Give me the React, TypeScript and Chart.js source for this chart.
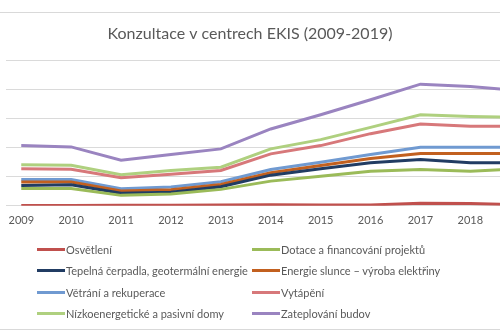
import React, { useEffect, useRef } from "react";
import { Chart, registerables } from "chart.js";

Chart.register(...registerables);

const years = [2009, 2010, 2011, 2012, 2013, 2014, 2015, 2016, 2017, 2018, 2019];

const seriesNames = [
  "Osvětlení",
  "Dotace a financování projektů",
  "Tepelná čerpadla, geotermální energie",
  "Energie slunce – výroba elektřiny",
  "Větrání a rekuperace",
  "Vytápění",
  "Nízkoenergetické a pasivní domy",
  "Zateplování budov",
];

const seriesColors = [
  "#C0504D",
  "#9BBB59",
  "#213C63",
  "#C2601F",
  "#709AD1",
  "#D7787A",
  "#AFD07F",
  "#9A84C0",
];

const osvetleni = [10, 10, 15, 20, 25, 40, 30, 30, 85, 75, 35];
const dotace = [597, 597, 358, 403, 563, 846, 1017, 1188, 1246, 1188, 1263];
const tepelna = [700, 724, 427, 461, 655, 1051, 1270, 1474, 1587, 1474, 1474];
const energieSlunce = [812, 812, 505, 553, 734, 1133, 1382, 1621, 1792, 1792, 1792];
const vetrani = [904, 904, 587, 642, 826, 1246, 1495, 1758, 2007, 2007, 2007];
const vytapeni = [1270, 1256, 962, 1085, 1212, 1782, 2065, 2474, 2805, 2724, 2724];
const nizkoenergeticke = [1406, 1393, 1065, 1212, 1324, 1952, 2270, 2689, 3123, 3065, 3038];
const zateplovani = [2065, 2020, 1563, 1758, 1952, 2635, 3123, 3635, 4171, 4089, 3942];

const seriesValues = [
  osvetleni,
  dotace,
  tepelna,
  energieSlunce,
  vetrani,
  vytapeni,
  nizkoenergeticke,
  zateplovani,
];

const titleText = "Konzultace v centrech EKIS (2009-2019)";
const FONT = "Lato, 'Open Sans', sans-serif";
const TEXT_COLOR = "#595959";

export default function App() {
  const canvasRef = useRef<HTMLCanvasElement | null>(null);

  useEffect(() => {
    if (!canvasRef.current) return;
    const chart = new Chart(canvasRef.current, {
      type: "line",
      data: {
        datasets: seriesNames.map((name, i) => ({
          label: name,
          data: years.map((yr, j) => ({ x: yr, y: seriesValues[i][j] })),
          borderColor: seriesColors[i],
          backgroundColor: seriesColors[i],
          borderWidth: 3,
          pointRadius: 0,
          tension: 0,
          fill: false,
        })),
      },
      options: {
        animation: false,
        responsive: false,
        maintainAspectRatio: false,
        layout: { padding: { left: 0, right: 0, top: 0, bottom: 98 } },
        plugins: {
          legend: { display: false },
          tooltip: { enabled: false },
          title: {
            display: true,
            text: titleText,
            color: TEXT_COLOR,
            font: { family: FONT, size: 16, weight: "normal" },
            padding: { top: 24, bottom: 16.8 },
          },
        },
        scales: {
          x: {
            type: "linear",
            min: 2008.693,
            max: 2018.594,
            grid: { display: false, drawTicks: false },
            border: { display: false },
            ticks: {
              stepSize: 1,
              includeBounds: false,
              color: TEXT_COLOR,
              font: { family: FONT, size: 11 },
              padding: 8.5,
              callback: (v: any) => String(v),
            },
          },
          y: {
            min: 0,
            max: 5000,
            border: { display: false },
            grid: { color: "#DADADA", lineWidth: 1, drawTicks: false },
            ticks: { display: false, stepSize: 1000 },
          },
        },
      },
    });
    return () => chart.destroy();
  }, []);

  return (
    <div
      style={{
        position: "absolute",
        left: 0,
        top: 0,
        width: 500,
        height: 334,
        overflow: "hidden",
        background: "#ffffff",
        fontFamily: FONT,
      }}
    >
      <div style={{ position: "absolute", left: 0, top: 12, width: 500, height: 1, background: "#D9D9D9" }} />
      <div style={{ position: "absolute", left: 0, top: 329, width: 500, height: 1, background: "#D9D9D9" }} />
      <canvas
        ref={canvasRef}
        width={500}
        height={334}
        style={{ position: "absolute", left: 0, top: 0, width: 500, height: 334 }}
      />
      {seriesNames.map((name, i) => {
        const col = i % 2;
        const row = Math.floor(i / 2);
        const left = col === 0 ? 37 : 252;
        const cy = 249 + row * 21.5;
        return (
          <div
            key={name}
            style={{
              position: "absolute",
              left,
              top: cy - 9,
              height: 18,
              display: "flex",
              alignItems: "center",
              whiteSpace: "nowrap",
              fontSize: 11,
              color: TEXT_COLOR,
            }}
          >
            <span
              style={{
                display: "inline-block",
                width: 28,
                height: 3,
                background: seriesColors[i],
                marginRight: 1,
              }}
            />
            <span>{name}</span>
          </div>
        );
      })}
    </div>
  );
}
